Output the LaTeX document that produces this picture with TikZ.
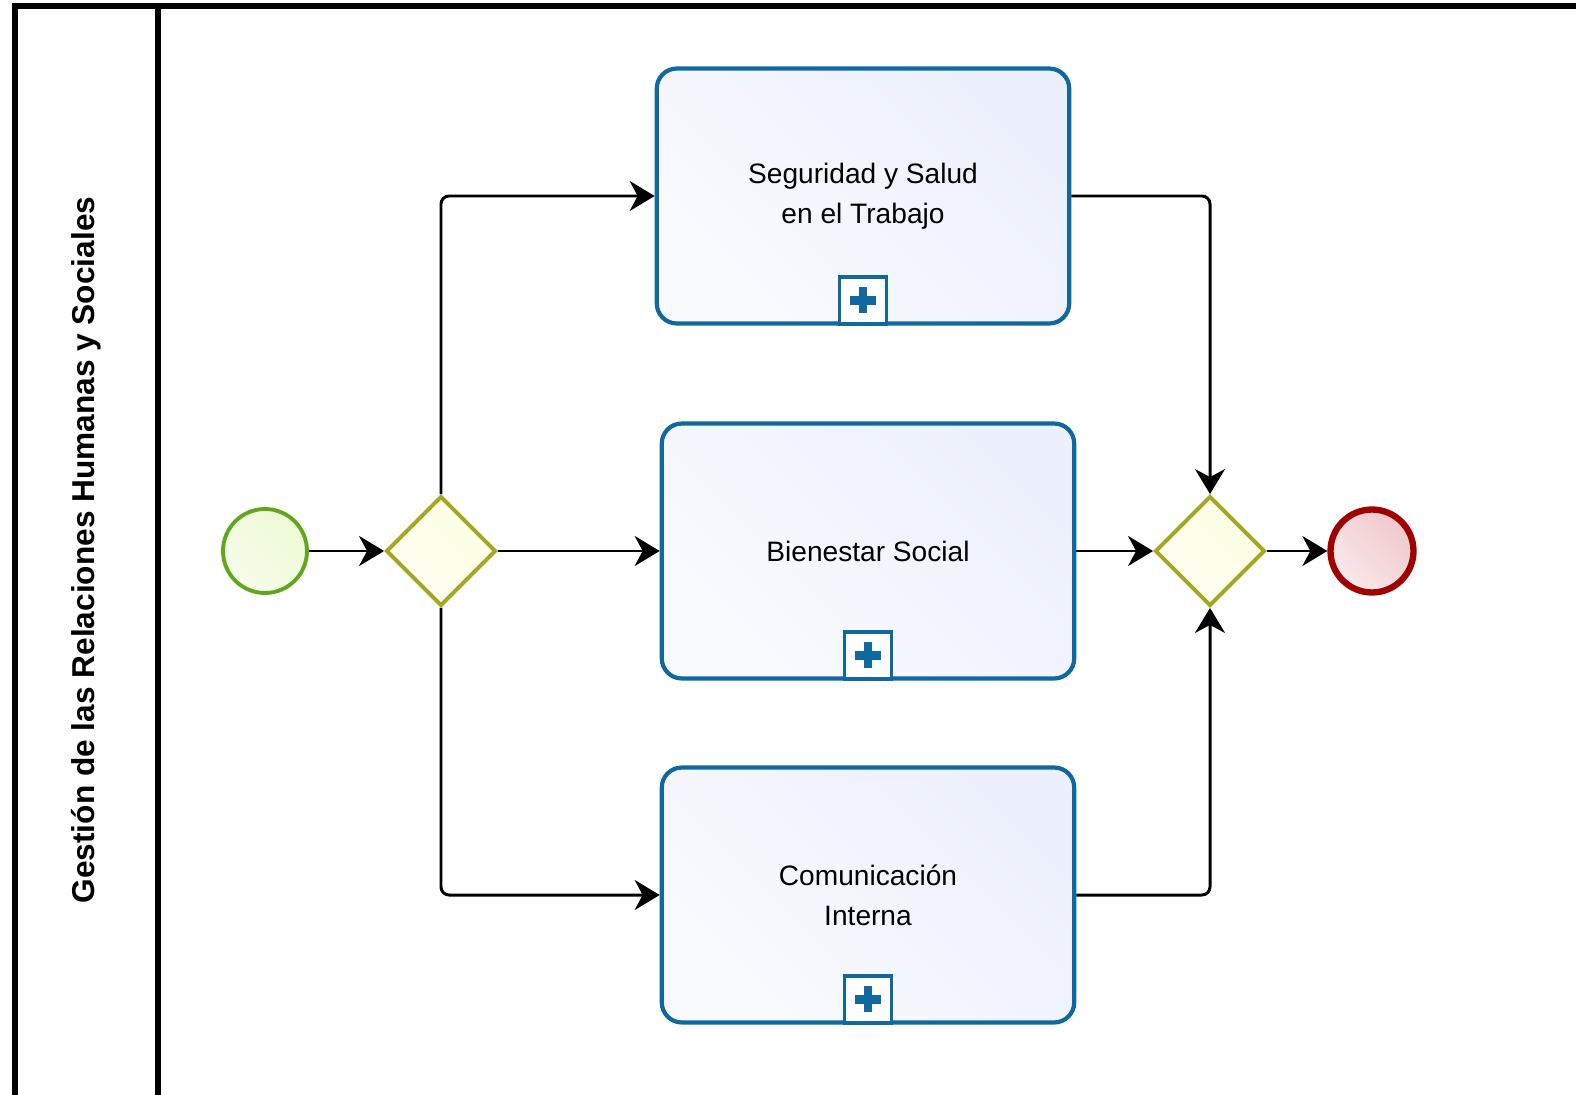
\documentclass[tikz,border=0pt]{standalone}
\usepackage{fontspec}
\setmainfont{Liberation Sans}
\usetikzlibrary{shapes.geometric,arrows.meta}

\definecolor{startline}{RGB}{98,166,30}
\definecolor{startfill}{RGB}{238,250,214}
\definecolor{gateline}{RGB}{166,166,32}
\definecolor{gatefill}{RGB}{254,254,226}
\definecolor{taskline}{RGB}{16,104,160}
\definecolor{taskfill}{RGB}{236,240,252}
\definecolor{endline}{RGB}{160,0,0}
\definecolor{endfill}{RGB}{240,200,204}

\begin{document}
\begin{tikzpicture}[x=0.02cm,y=-0.02cm,
    flow/.style={line width=1.7pt,-{Stealth[length=5mm,width=6mm,inset=1.6mm]},rounded corners=0.16cm},
    task/.style={draw=taskline,top color=white!70!taskfill,bottom color=taskfill,shading angle=135,
        line width=2.4pt,rounded corners=0.4cm,
        minimum width=8.25cm,minimum height=5.1cm,align=center,
        font=\fontsize{16}{23}\selectfont},
    gateway/.style={diamond,draw=gateline,top color=white!60!gatefill,bottom color=gatefill,shading angle=135,
        line width=2.2pt,minimum width=2.2cm,minimum height=2.2cm,inner sep=0pt},
    marker/.style={draw=taskline,fill=white,line width=2.2pt,minimum size=0.94cm,
        inner sep=0pt,anchor=south},
    plus/.style={draw=taskline,line width=5pt}]

\useasboundingbox (0,0) rectangle (1576,1095);
% lane
\draw[line width=3pt] (1576,6) -- (15,6) -- (15,1095);
\draw[line width=3pt] (158,6) -- (158,1095);
\node[rotate=90,font=\bfseries\fontsize{18}{20}\selectfont] (title) at (86,550)
    {Gestión de las Relaciones Humanas y Sociales};

% events and gateways
\node[circle,draw=startline,top color=white!50!startfill,bottom color=startfill,shading angle=135,
    line width=2.2pt,minimum size=1.68cm,inner sep=0pt] (start) at (265,551) {};
\node[gateway] (split) at (441,551) {};
\node[gateway] (join) at (1210,551) {};
\node[circle,draw=endline,top color=white!60!endfill,bottom color=endfill,shading angle=135,
    line width=3.6pt,minimum size=1.66cm,inner sep=0pt] (end) at (1372,551) {};

% subprocesses
\node[task] (seguridad) at (863,196) {Seguridad y Salud\\en el Trabajo};
\node[task] (bienestar) at (868,551) {Bienestar Social};
\node[task] (comunicacion) at (868,895) {Comunicación\\Interna};
\foreach \t/\m in {seguridad/mseg,bienestar/mbien,comunicacion/mcom}{
    \node[marker] (\m) at (\t.south) {};
    \draw[plus] (\m.center) ++(-13,0) -- ++(26,0);
    \draw[plus] (\m.center) ++(0,-13) -- ++(0,26);
}

% sequence flows
\draw[flow] (start) -- (split);
\draw[flow] (split.north) |- (seguridad.west);
\draw[flow] (split) -- (bienestar);
\draw[flow] (split.south) |- (comunicacion.west);
\draw[flow] (seguridad.east) -| (join.north);
\draw[flow] (bienestar) -- (join);
\draw[flow] (comunicacion.east) -| (join.south);
\draw[flow] (join) -- (end);
\end{tikzpicture}
\end{document}
